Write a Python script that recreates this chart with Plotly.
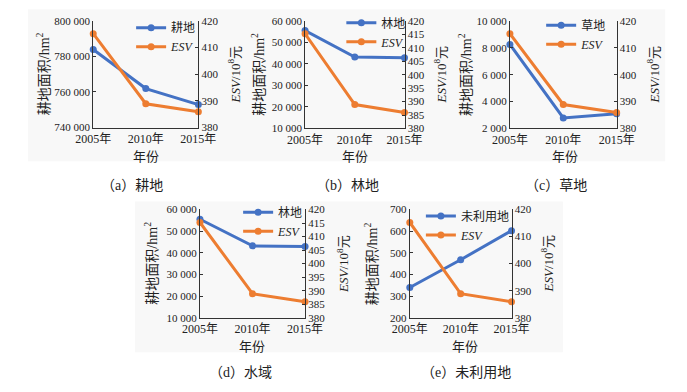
import plotly.graph_objects as go

OFF = 8            # page body margin of the browser
W, H = 687 - OFF, 392 - OFF

years = ["2005年", "2010年", "2015年"]
esv = [415.2, 388.9, 385.9]
cropland = [783900, 761900, 752900]
forest = [55500, 43200, 42900]
grass = [8250, 2780, 3100]
water = [55500, 43200, 42900]
unused = [340, 468, 602]

land_names = ["耕地", "林地", "草地", "林地", "未利用地"]
land_series = [cropland, forest, grass, water, unused]
captions = ["（a）耕地", "（b）林地", "（c）草地", "（d）水域", "（e）未利用地"]
left_ranges = [(740000, 800000, 20000), (10000, 60000, 10000), (2000, 10000, 2000),
               (10000, 60000, 10000), (200, 700, 100)]
right_dticks = [10, 5, 10, 5, 10]

# panel pixel boxes (screen coords): left, right, top, bottom
boxes = [(79, 190, 12, 123), (302.7, 407.7, 12, 124), (519, 631.7, 12, 124),
         (191.7, 302.7, 208.3, 321), (413.3, 520.7, 208.3, 321)]
left_title_x = [26, 253, 471, 140, 372]
right_title_x = [228, 445, 670, 342, 558]
xlabel_pos = [(134.5, 153), (355, 153), (577, 153), (247, 351), (472, 351)]
caption_pos = [(120, 183), (347, 183), (568, 183), (235, 378), (473, 378)]
# legend: text start x, middle y between the two rows
legend_pos = [(157, 34.5), (379, 29.5), (590, 32), (270, 226.5), (463, 230.5)]

BLUE = "#4472C4"
ORANGE = "#ED7D31"
FONT = "Liberation Serif, Noto Sans CJK SC"

def px(x):
    return (x - OFF) / W

def py(y):
    return 1 - (y - OFF) / H

fig = go.Figure()
layout = dict(
    width=W, height=H, margin=dict(l=0, r=0, t=0, b=0),
    paper_bgcolor="white", plot_bgcolor="rgba(0,0,0,0)",
    separators=". ", font=dict(family=FONT, size=11, color="#222"),
    annotations=[], shapes=[],
)

# subtle grey backdrops
layout["shapes"].append(dict(type="rect", xref="paper", yref="paper", x0=px(10), x1=px(683),
                             y0=py(158), y1=py(0), fillcolor="#f8f8f8", line_width=0, layer="below"))
layout["shapes"].append(dict(type="rect", xref="paper", yref="paper", x0=px(123), x1=px(575),
                             y0=py(357), y1=py(200), fillcolor="#f8f8f8", line_width=0, layer="below"))

for i in range(5):
    xa = "x" if i == 0 else f"x{i+1}"
    yl = 2 * i + 1
    yr = 2 * i + 2
    yla = "y" if yl == 1 else f"y{yl}"
    yra = f"y{yr}"
    leg = "legend" if i == 0 else f"legend{i+1}"

    fig.add_trace(go.Scatter(x=years, y=land_series[i], name=land_names[i], mode="lines+markers",
                             line=dict(color=BLUE, width=3), marker=dict(color=BLUE, size=7),
                             xaxis=xa, yaxis=yla, legend=leg, cliponaxis=False))
    fig.add_trace(go.Scatter(x=years, y=esv, name="<i>ESV</i>", mode="lines+markers",
                             line=dict(color=ORANGE, width=3), marker=dict(color=ORANGE, size=7),
                             xaxis=xa, yaxis=yra, legend=leg, cliponaxis=False))

    l, r, t, b = boxes[i]
    xkey = "xaxis" if i == 0 else f"xaxis{i+1}"
    ylkey = "yaxis" if yl == 1 else f"yaxis{yl}"
    yrkey = f"yaxis{yr}"
    layout[xkey] = dict(domain=[px(l), px(r)], anchor=yla, type="category", range=[0, 2],
                        showline=True, linecolor="#333", linewidth=1, showgrid=False, ticks="",
                        zeroline=False, tickfont=dict(size=12, family=FONT))
    lo, hi, dt = left_ranges[i]
    layout[ylkey] = dict(domain=[py(b), py(t)], anchor=xa, range=[lo, hi], dtick=dt, tick0=lo,
                         tickformat=",d", showline=True, linecolor="#333", linewidth=1,
                         ticks="inside", ticklen=3, tickcolor="#333", showgrid=False, zeroline=False,
                         tickfont=dict(size=11, family=FONT))
    layout[yrkey] = dict(domain=[py(b), py(t)], anchor=xa, overlaying=yla, side="right",
                         range=[380, 420], dtick=right_dticks[i], tick0=380,
                         showline=True, linecolor="#333", linewidth=1, ticks="inside", ticklen=3,
                         tickcolor="#333", showgrid=False, zeroline=False,
                         tickfont=dict(size=11, family=FONT))
    lx, ly = legend_pos[i]
    layout[leg] = dict(x=px(lx - 38), y=py(ly - 30.5), xanchor="left", yanchor="top",
                       bgcolor="rgba(0,0,0,0)", font=dict(size=12, family=FONT, color="#222"),
                       itemwidth=30, tracegroupgap=0)

    cy = (t + b) / 2
    common = dict(xref="paper", yref="paper", showarrow=False, xanchor="center", yanchor="middle")
    layout["annotations"].append(dict(text="耕地面积/hm<sup>2</sup>", x=px(left_title_x[i]), y=py(cy),
                                      textangle=-90, font=dict(size=14, family=FONT, color="#222"), **common))
    layout["annotations"].append(dict(text="<i>ESV</i>/10<sup>8</sup>元", x=px(right_title_x[i]), y=py(cy),
                                      textangle=-90, font=dict(size=13, family=FONT, color="#222"), **common))
    gx, gy = xlabel_pos[i]
    layout["annotations"].append(dict(text="年份", x=px(gx), y=py(gy),
                                      font=dict(size=13, family=FONT, color="#222"), **common))
    cx, cyy = caption_pos[i]
    layout["annotations"].append(dict(text=captions[i], x=px(cx), y=py(cyy),
                                      font=dict(size=14, family=FONT, color="#222"), **common))

fig.update_layout(**layout)
fig.write_html("out.html")
